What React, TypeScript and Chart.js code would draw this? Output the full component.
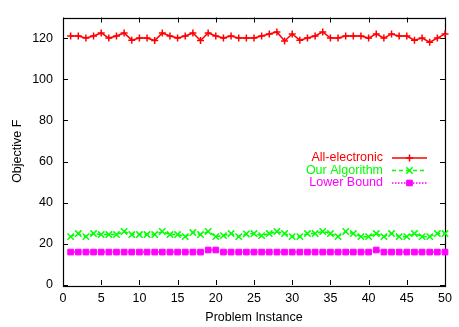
import { useEffect, useRef } from 'react';
import { Chart, registerables } from 'chart.js';
import { drawPoint } from 'chart.js/helpers';

Chart.register(...registerables);

const instances = [
  1, 2, 3, 4, 5, 6, 7, 8, 9, 10, 11, 12, 13, 14, 15, 16, 17, 18, 19, 20, 21, 22, 23, 24, 25,
  26, 27, 28, 29, 30, 31, 32, 33, 34, 35, 36, 37, 38, 39, 40, 41, 42, 43, 44, 45, 46, 47, 48, 49, 50,
];

const allElectronic = [
  121, 121, 120, 121, 122.5, 120, 121, 122.5, 119, 120,
  120, 118.8, 122.5, 121, 120, 121, 122.5, 118.8, 122.5, 121,
  120, 121, 120, 120, 120, 121, 122, 123, 118.6, 122,
  119, 120, 121, 123, 120, 120, 121, 121, 121, 120,
  122, 120, 122, 121, 121, 119, 120, 118, 120, 122,
];

const ourAlgorithm = [
  23.5, 25, 23.5, 25, 24.5, 24.5, 24.5, 26, 24.5, 24.5,
  24.5, 24.5, 26, 24.5, 24.5, 23.5, 25.5, 24.5, 26, 23.5,
  24, 25, 23.5, 24.8, 25, 24, 25, 26, 25, 23.5,
  23.5, 25, 25, 26, 25, 23.5, 26, 25, 23.5, 23.5,
  25, 23.5, 25, 23.5, 23.5, 25, 23.5, 23.5, 25, 25,
];

const lowerBound = [
  16, 16, 16, 16, 16, 16, 16, 16, 16, 16,
  16, 16, 16, 16, 16, 16, 16, 16, 17, 17,
  16, 16, 16, 16, 16, 16, 16, 16, 16, 16,
  16, 16, 16, 16, 16, 16, 16, 16, 16, 16,
  17, 16, 16, 16, 16, 16, 16, 16, 16, 16,
];

const xTicks = [0, 5, 10, 15, 20, 25, 30, 35, 40, 45, 50];
const yTicks = [0, 20, 40, 60, 80, 100, 120];

const seriesNames = ['All-electronic', 'Our Algorithm', 'Lower Bound'];

const FONT = '"Liberation Sans", Arial, Helvetica, sans-serif';

const framePlugin = {
  id: 'frame',
  beforeDatasetsDraw(chart: any) {
    const { ctx, chartArea, scales } = chart;
    const { left, right, top, bottom } = chartArea;
    const x = scales.x;
    const y = scales.y;
    const tl = 5;
    ctx.save();
    ctx.strokeStyle = '#000';
    ctx.lineWidth = 1;
    ctx.beginPath();
    for (const t of x.ticks) {
      const px = Math.round(x.getPixelForValue(t.value)) + 0.5;
      ctx.moveTo(px, bottom);
      ctx.lineTo(px, bottom - tl);
      ctx.moveTo(px, top);
      ctx.lineTo(px, top + tl);
    }
    for (const t of y.ticks) {
      const py = Math.round(y.getPixelForValue(t.value)) + 0.5;
      ctx.moveTo(left, py);
      ctx.lineTo(left + tl, py);
      ctx.moveTo(right, py);
      ctx.lineTo(right - tl, py);
    }
    ctx.stroke();
    ctx.lineWidth = 1.2;
    ctx.strokeRect(Math.round(left) + 0.5, Math.round(top) + 0.5, Math.round(right - left), Math.round(bottom - top));
    ctx.restore();
  },
};

const legendPlugin = {
  id: 'customLegend',
  afterDraw(chart: any) {
    const { ctx } = chart;
    const rows = [158, 170.5, 183];
    const textRight = 383;
    const lineL = 392;
    const lineR = 427;
    ctx.save();
    ctx.font = `12.5px ${FONT}`;
    ctx.textAlign = 'right';
    ctx.textBaseline = 'middle';
    chart.data.datasets.forEach((ds: any, i: number) => {
      const yy = rows[i];
      ctx.fillStyle = ds.borderColor;
      ctx.fillText(ds.label, textRight, yy);
      ctx.save();
      ctx.strokeStyle = ds.borderColor;
      ctx.lineWidth = ds.borderWidth;
      ctx.setLineDash(ds.borderDash || []);
      ctx.beginPath();
      ctx.moveTo(lineL, yy);
      ctx.lineTo(lineR, yy);
      ctx.stroke();
      ctx.restore();
      ctx.save();
      ctx.strokeStyle = ds.borderColor;
      ctx.fillStyle = ds.borderColor;
      ctx.lineWidth = ds.pointBorderWidth;
      drawPoint(ctx, { pointStyle: ds.pointStyle, radius: ds.pointRadius, rotation: 0, borderWidth: ds.pointBorderWidth }, (lineL + lineR) / 2, yy);
      ctx.restore();
    });
    ctx.restore();
  },
};

function toPoints(values: number[]) {
  return values.map((v, i) => ({ x: instances[i], y: v }));
}

export default function App() {
  const ref = useRef<HTMLCanvasElement | null>(null);

  useEffect(() => {
    if (!ref.current) return;
    const chart = new Chart(ref.current, {
      type: 'line',
      data: {
        datasets: [
          {
            label: seriesNames[0],
            data: toPoints(allElectronic),
            borderColor: '#ff0000',
            backgroundColor: '#ff0000',
            borderWidth: 1.5,
            pointStyle: 'cross',
            pointRadius: 3.5,
            pointBorderWidth: 1.5,
            clip: false,
          } as any,
          {
            label: seriesNames[1],
            data: toPoints(ourAlgorithm),
            borderColor: '#00ff00',
            backgroundColor: '#00ff00',
            borderWidth: 1.5,
            borderDash: [4, 3],
            pointStyle: 'crossRot',
            pointRadius: 4.5,
            pointBorderWidth: 1.5,
            clip: false,
          } as any,
          {
            label: seriesNames[2],
            data: toPoints(lowerBound),
            borderColor: '#ff00ff',
            backgroundColor: '#ff00ff',
            borderWidth: 1.5,
            borderDash: [1.5, 1.5],
            pointStyle: 'rect',
            pointRadius: 4,
            pointBorderWidth: 1,
            clip: false,
          } as any,
        ],
      },
      options: {
        responsive: false,
        animation: false,
        events: [],
        layout: { padding: { top: 10, right: 14, left: 0, bottom: 0 } },
        plugins: { legend: { display: false }, tooltip: { enabled: false } },
        scales: {
          x: {
            type: 'linear',
            min: 0,
            max: 50,
            grid: { display: false, drawTicks: false },
            border: { display: false },
            afterBuildTicks: (s: any) => {
              s.ticks = xTicks.map((v) => ({ value: v }));
            },
            afterFit: (s: any) => {
              s.height = 42;
            },
            ticks: {
              color: '#000',
              padding: 6,
              maxRotation: 0,
              autoSkip: false,
              font: { family: FONT, size: 12.5 },
            },
            title: {
              display: true,
              text: 'Problem Instance',
              color: '#000',
              padding: { top: 0, bottom: 2 },
              font: { family: FONT, size: 12.5 },
            },
          },
          y: {
            type: 'linear',
            min: 0,
            max: 130,
            grid: { display: false, drawTicks: false },
            border: { display: false },
            afterBuildTicks: (s: any) => {
              s.ticks = yTicks.map((v) => ({ value: v }));
            },
            afterFit: (s: any) => {
              s.width = 63;
            },
            ticks: {
              color: '#000',
              padding: 10,
              autoSkip: false,
              font: { family: FONT, size: 12.5 },
            },
            title: {
              display: true,
              text: 'Objective F',
              color: '#000',
              padding: { top: 10.5, bottom: 0 },
              font: { family: FONT, size: 12.5 },
            },
          },
        },
      },
      plugins: [framePlugin, legendPlugin],
    });
    return () => chart.destroy();
  }, []);

  return (
    <div style={{ position: 'absolute', left: 0, top: 0, width: 459, height: 327, background: '#fff' }}>
      <canvas ref={ref} width={459} height={327} style={{ display: 'block' }} />
    </div>
  );
}
